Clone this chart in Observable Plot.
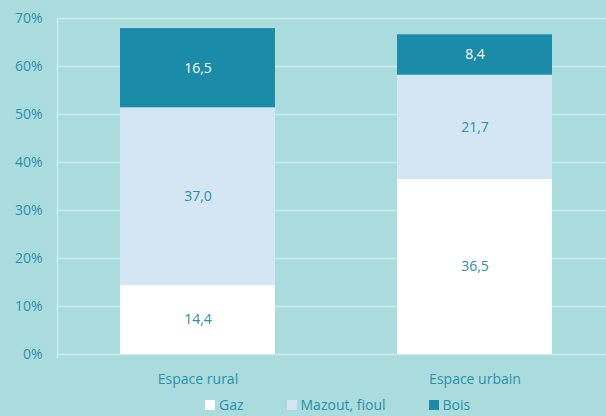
<!DOCTYPE html>
<html>
<head>
<meta charset="utf-8">
<script src="https://cdn.jsdelivr.net/npm/d3@7"></script>
<script src="https://cdn.jsdelivr.net/npm/@observablehq/plot@0.6"></script>
<style>
  html, body { margin: 0; padding: 0; background: #aadcdd; width: 606px; height: 416px; overflow: hidden; }
  #chart svg { display: block; background: #aadcdd; }
  #legend { display: flex; gap: 43px; margin-left: 205px; margin-top: 2px; font-family: "Open Sans", sans-serif; font-size: 14px; color: #2a8fab; line-height: 16px; }
  #legend .item { display: flex; align-items: center; }
  #legend .sw { width: 10px; height: 10px; margin-right: 4px; }
</style>
</head>
<body>
<div id="chart"></div>
<div id="legend"></div>
<script>
const zones = ["Espace rural", "Espace urbain"];
const energies = ["Gaz", "Mazout, fioul", "Bois"];
const gaz = [14.4, 36.5];
const mazout = [37.0, 21.7];
const bois = [16.5, 8.4];
const yTicks = [0, 10, 20, 30, 40, 50, 60, 70];
const colors = ["#ffffff", "#d4e6f3", "#1a8ba8"];

const series = [gaz, mazout, bois];
const data = [];
energies.forEach((e, i) => zones.forEach((z, j) => data.push({zone: z, energy: e, value: series[i][j]})));

const textColor = "#2a8fab";
const gridColor = "#cdebee";
const fmt = v => v.toFixed(1).replace(".", ",");
const font = "'Open Sans', sans-serif";

const plot = Plot.plot({
  width: 606,
  height: 395,
  marginLeft: 57,
  marginRight: 0,
  marginTop: 18,
  marginBottom: 41,
  style: {background: "#aadcdd", fontFamily: font, fontSize: "14px", color: textColor},
  x: {domain: zones, range: [61, 610], paddingInner: 0.442, paddingOuter: 0.2086, label: null},
  y: {domain: [0, 70], label: null},
  color: {domain: energies, range: colors},
  marks: [
    Plot.ruleY(yTicks, {stroke: gridColor, strokeWidth: 1.5, strokeOpacity: 1}),
    Plot.barY(data, {x: "zone", y: "value", fill: "energy", order: energies}),
    Plot.text(data, Plot.stackY({x: "zone", y: "value", order: energies, text: d => fmt(d.value),
      fill: d => d.energy === "Bois" ? "#ffffff" : textColor, fontSize: 14})),
    Plot.axisY({ticks: yTicks, tickFormat: d => d + "%", tickSize: 0, tickPadding: 15, fill: textColor, fontSize: 14}),
    Plot.axisX({tickSize: 0, tickPadding: 20, fill: textColor, fontSize: 14})
  ]
});
document.getElementById("chart").appendChild(plot);

// vertical axis line on the left edge of the plot area
const svg = d3.select(plot);
svg.append("line")
  .attr("x1", 57.5).attr("x2", 57.5)
  .attr("y1", 18).attr("y2", 358)
  .attr("stroke", gridColor).attr("stroke-width", 1.5);

const legend = document.getElementById("legend");
energies.forEach((e, i) => {
  const item = document.createElement("div");
  item.className = "item";
  const sw = document.createElement("span");
  sw.className = "sw";
  sw.style.background = colors[i];
  const lab = document.createElement("span");
  lab.textContent = e;
  item.appendChild(sw);
  item.appendChild(lab);
  legend.appendChild(item);
});
</script>
</body>
</html>
